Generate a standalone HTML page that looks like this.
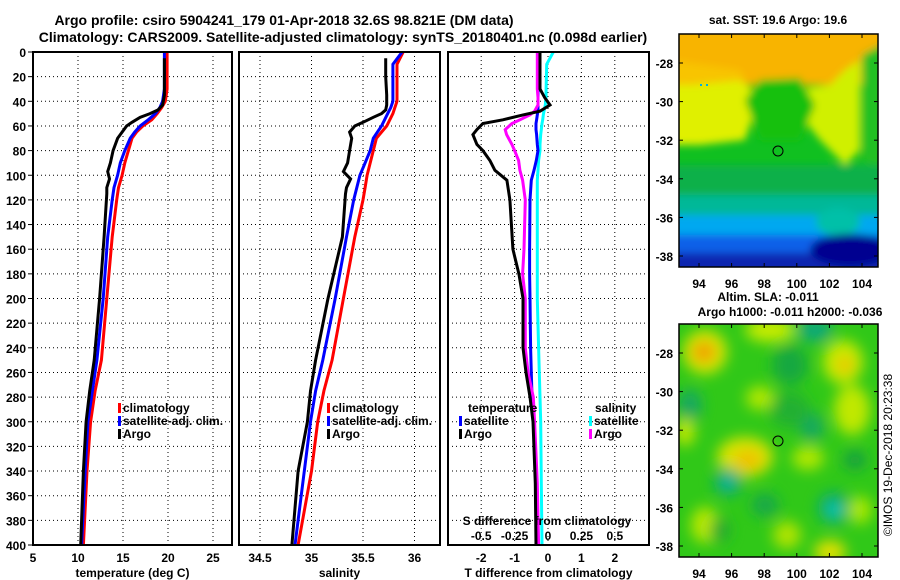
<!DOCTYPE html>
<html><head><meta charset="utf-8"><style>
html,body{margin:0;padding:0;background:#fff;}
svg{display:block;font-family:"Liberation Sans",Arial,sans-serif;font-weight:bold;}
</style></head><body>
<svg id="c" width="900" height="580" viewBox="0 0 900 580" xmlns="http://www.w3.org/2000/svg">
<defs>
<filter id="bl" x="-20%" y="-20%" width="140%" height="140%"><feGaussianBlur stdDeviation="4"/></filter>
<filter id="bl2" x="-20%" y="-20%" width="140%" height="140%"><feGaussianBlur stdDeviation="7"/></filter>
<clipPath id="m1"><rect x="679" y="34" width="199" height="233"/></clipPath>
<clipPath id="m2"><rect x="679" y="324" width="199" height="233"/></clipPath>
<clipPath id="p1"><rect x="33" y="52" width="199" height="493"/></clipPath>
<clipPath id="p2"><rect x="239" y="52" width="201" height="493"/></clipPath>
<clipPath id="p3"><rect x="448" y="52" width="201" height="493"/></clipPath>
</defs>
<text x="284" y="25" font-size="14" text-anchor="middle">Argo profile: csiro 5904241_179 01-Apr-2018 32.6S 98.821E (DM data)</text>
<text x="343" y="42" font-size="14" text-anchor="middle">Climatology: CARS2009. Satellite-adjusted climatology: synTS_20180401.nc (0.098d earlier)</text>

<g>
<text x="778" y="24" font-size="12" text-anchor="middle">sat. SST: 19.6 Argo: 19.6</text>
<g clip-path="url(#m1)">
<rect x="679" y="34" width="199" height="233" fill="#10c020"/>
<g filter="url(#bl)">
<rect x="670" y="25" width="220" height="60" fill="#f8b400"/>
<polygon points="670,75 740,80 760,95 745,140 700,145 670,145" fill="#e0f000"/>
<polygon points="670,60 740,70 745,80 690,85 670,85" fill="#f8c400"/>
<polygon points="790,90 830,85 845,70 860,60 860,110 860,150 845,165 820,140 800,115" fill="#d0f000"/>
<polygon points="745,100 760,80 800,78 815,105 800,140 760,140" fill="#18c010"/>
<polygon points="862,55 890,40 890,180 862,160" fill="#20c020"/>
<rect x="670" y="165" width="220" height="35" fill="#10b048"/>
<rect x="670" y="195" width="220" height="25" fill="#00b898"/>
<rect x="670" y="215" width="220" height="25" fill="#00a8f0"/>
<ellipse cx="838" cy="222" rx="22" ry="14" fill="#00c0a8"/>
<rect x="670" y="235" width="220" height="18" fill="#1060e8"/>
<rect x="670" y="253" width="220" height="30" fill="#0828b0"/>
<ellipse cx="850" cy="250" rx="40" ry="16" fill="#000090"/>
</g>
<rect x="700" y="84" width="2" height="2" fill="#00b0e0"/><rect x="706" y="84" width="2" height="2" fill="#00b0e0"/>
</g>
<rect x="679" y="34" width="199" height="233" fill="none" stroke="#000" stroke-width="1.5"/>
<circle cx="778" cy="151" r="5" fill="none" stroke="#000" stroke-width="1"/>
<g id="m1ax"></g>
</g>

<g>
<text x="768" y="301" font-size="12" text-anchor="middle">Altim. SLA: -0.011</text>
<text x="790" y="316" font-size="12" text-anchor="middle">Argo h1000: -0.011 h2000: -0.036</text>
<g clip-path="url(#m2)">
<rect x="679" y="324" width="199" height="233" fill="#30c818"/>
<g filter="url(#bl2)">
<ellipse cx="705" cy="352" rx="22" ry="22" fill="#d8e800"/>
<ellipse cx="704" cy="352" rx="12" ry="11" fill="#f0a000"/>
<ellipse cx="770" cy="330" rx="25" ry="12" fill="#c8ec00"/>
<ellipse cx="815" cy="330" rx="18" ry="12" fill="#10a878"/>
<ellipse cx="843" cy="362" rx="20" ry="22" fill="#c8ea00"/>
<ellipse cx="845" cy="365" rx="8" ry="8" fill="#f0c000"/>
<ellipse cx="690" cy="405" rx="12" ry="16" fill="#18a860"/>
<ellipse cx="760" cy="398" rx="14" ry="12" fill="#b0e800"/>
<ellipse cx="745" cy="457" rx="28" ry="20" fill="#d8e400"/>
<ellipse cx="748" cy="460" rx="14" ry="10" fill="#f0c000"/>
<ellipse cx="685" cy="432" rx="10" ry="14" fill="#c0e800"/>
<ellipse cx="852" cy="410" rx="18" ry="25" fill="#c0e800"/>
<ellipse cx="812" cy="427" rx="12" ry="14" fill="#18a860"/>
<ellipse cx="790" cy="410" rx="20" ry="18" fill="#20b030"/>
<ellipse cx="728" cy="482" rx="14" ry="14" fill="#10a870"/>
<ellipse cx="728" cy="482" rx="6" ry="6" fill="#10c0b0"/>
<ellipse cx="834" cy="508" rx="16" ry="16" fill="#10a870"/>
<ellipse cx="834" cy="510" rx="7" ry="7" fill="#10d0c0"/>
<ellipse cx="808" cy="458" rx="16" ry="12" fill="#b0e800"/>
<ellipse cx="855" cy="460" rx="12" ry="10" fill="#18a040"/>
<ellipse cx="765" cy="505" rx="14" ry="12" fill="#18a848"/>
<ellipse cx="705" cy="525" rx="14" ry="18" fill="#b8e800"/>
<ellipse cx="720" cy="530" rx="10" ry="12" fill="#20a830"/>
<ellipse cx="830" cy="552" rx="16" ry="12" fill="#e0e000"/>
<ellipse cx="860" cy="510" rx="12" ry="14" fill="#a8e800"/>
<ellipse cx="787" cy="535" rx="14" ry="14" fill="#b0e400"/>
<ellipse cx="790" cy="365" rx="18" ry="20" fill="#18a840"/>
</g>
</g>
<rect x="679" y="324" width="199" height="233" fill="none" stroke="#000" stroke-width="1.5"/>
<circle cx="778" cy="441" r="5" fill="none" stroke="#000" stroke-width="1"/>
<g id="m2ax"></g>
</g>
<text transform="translate(892,455) rotate(-90)" font-size="12" font-weight="normal" text-anchor="middle">©IMOS 19-Dec-2018 20:23:38</text>

<g id="panels"></g>
</svg>
<script>
// ---- data (depth in dbar) ----
const depths = [0,10,20,30,40,45,50,55,60,65,70,80,90,100,110,120,150,200,250,275,300,340,400];
const tempClim = [19.9,19.9,19.9,19.9,19.7,19.3,18.8,18.2,17.2,16.5,16.0,15.6,15.2,14.9,14.5,14.3,13.8,13.2,12.6,11.9,11.4,11.0,10.6];
const tempSat  = [19.6,19.6,19.6,19.6,19.4,19.1,18.6,17.8,16.9,16.3,15.8,15.2,14.7,14.4,14.0,13.8,13.3,12.8,12.1,11.6,11.1,10.8,10.4];
const argoDepths = [5,20,35,43,47,50,53,57,60,65,70,80,90,97,103,110,115,150,200,250,275,300,340,400];
const tempArgo = [19.6,19.6,19.6,19.4,18.9,18.0,16.9,16.0,15.4,14.9,14.4,13.9,13.6,13.3,13.5,13.2,13.2,12.9,12.4,11.8,11.3,10.9,10.6,10.3];
const salClim = [35.89,35.83,35.83,35.83,35.83,35.81,35.79,35.76,35.73,35.68,35.63,35.60,35.57,35.54,35.52,35.50,35.42,35.31,35.20,35.12,35.06,35.00,34.87];
const salSat  = [35.88,35.79,35.79,35.79,35.79,35.77,35.74,35.71,35.68,35.64,35.60,35.57,35.52,35.47,35.44,35.41,35.34,35.23,35.11,35.04,34.99,34.93,34.84];
const salArgo = [35.72,35.72,35.73,35.73,35.72,35.68,35.60,35.50,35.42,35.37,35.39,35.37,35.35,35.31,35.38,35.34,35.33,35.30,35.16,35.04,34.99,34.96,34.87,34.81];
const diffDepths = [0,10,20,30,37,43,48,51,55,58,63,67,75,80,88,96,104,120,160,180,200,240,260,280,300,350,400];
const dTempArgo = [-0.24,-0.24,-0.24,-0.24,-0.1,0.06,-0.24,-0.75,-1.35,-1.95,-2.13,-2.25,-2.13,-1.95,-1.74,-1.59,-1.23,-1.14,-1.05,-0.87,-0.75,-0.75,-0.66,-0.54,-0.45,-0.38,-0.36];
const dTempSat  = [-0.3,-0.3,-0.3,-0.3,-0.3,-0.3,-0.3,-0.32,-0.34,-0.36,-0.36,-0.34,-0.32,-0.3,-0.35,-0.42,-0.5,-0.54,-0.55,-0.55,-0.54,-0.52,-0.5,-0.48,-0.42,-0.36,-0.33];
const dSalArgo  = [-0.08,-0.08,-0.08,-0.08,-0.075,-0.075,-0.1,-0.135,-0.21,-0.27,-0.32,-0.31,-0.27,-0.25,-0.22,-0.21,-0.19,-0.17,-0.18,-0.19,-0.17,-0.17,-0.15,-0.11,-0.1,-0.08,-0.07];
const dSalSat   = [0.04,-0.01,-0.012,-0.014,-0.015,-0.02,-0.03,-0.035,-0.04,-0.045,-0.05,-0.055,-0.06,-0.06,-0.07,-0.075,-0.08,-0.08,-0.08,-0.08,-0.08,-0.07,-0.065,-0.06,-0.055,-0.05,-0.045];
const depthTicks = [0,20,40,60,80,100,120,140,160,180,200,220,240,260,280,300,320,340,360,380,400];
const tempTicks = [5,10,15,20,25];
const salTicks = [34.5,35,35.5,36];
const dTTicks = [-2,-1,0,1,2];
const dSTicks = ["-0.5","-0.25","0","0.25","0.5"];
const lonTicks = [94,96,98,100,102,104];
const latTicks = [-28,-30,-32,-34,-36,-38];

const NS="http://www.w3.org/2000/svg";
const root=document.getElementById('panels');
function mk(tag,attrs,parent){const e=document.createElementNS(NS,tag);for(const k in attrs)e.setAttribute(k,attrs[k]);(parent||root).appendChild(e);return e;}
const Y0=52,Y1=545;
const yD=d=>Y0+d*(Y1-Y0)/400;
const xT=v=>33+(v-5)*9;
const xS=v=>260+(v-34.5)*103;
const xDT=v=>548+v*33.4;
const xDS=v=>548+v*133.6;

function panel(name,x0,x1,xticks,xf,labels,xlabel,leftLabels){
  const g=mk('g',{});
  
  
  depthTicks.forEach(d=>{
    const l=mk('line',{x1:x0,x2:x1,y1:yD(d),y2:yD(d),stroke:'#000','stroke-width':1,'stroke-dasharray':'1,3'},g);
    
    
    if(leftLabels){
      const t=mk('text',{x:26,y:yD(d)+5,'font-size':12,'text-anchor':'end'},g);t.textContent=d;
      
      
      mk('line',{x1:28,x2:33,y1:yD(d),y2:yD(d),stroke:'#000'},g);
    }
  });
  xticks.forEach((v,i)=>{
    const x=xf(v);
    const l=mk('line',{x1:x,x2:x,y1:Y0,y2:Y1,stroke:'#000','stroke-width':1,'stroke-dasharray':'1,3'},g);
    
    
    const t=mk('text',{x:x,y:562,'font-size':12,'text-anchor':'middle'},g);t.textContent=labels?labels[i]:v;
    
    
  });
  const t=mk('text',{x:(x0+x1)/2,y:577,'font-size':12,'text-anchor':'middle'},g);t.textContent=xlabel;
  
  
  return g;
}
function line(g,ds,vs,xf,color,name,clip){
  const pts=ds.map((d,i)=>xf(vs[i]).toFixed(1)+','+yD(d).toFixed(1)).join(' ');
  const p=mk('polyline',{points:pts,fill:'none',stroke:color,'stroke-width':3,'stroke-linejoin':'miter','clip-path':'url(#'+clip+')'},g);
  
  
}
function frame(g,x0,x1){mk('rect',{x:x0,y:Y0,width:x1-x0,height:Y1-Y0,fill:'none',stroke:'#000','stroke-width':2},g);}
function legend(g,x,y,color,label){
  mk('rect',{x:x,y:y-9,width:3,height:10,fill:color},g);
  const t=mk('text',{x:x+5,y:y,'font-size':12},g);t.textContent=label;
  
  
}

// Panel 1
let g=panel('temperature-panel',33,232,tempTicks,xT,null,'temperature (deg C)',true);
line(g,depths,tempClim,xT,'#ff0000','temp-climatology-line','p1');
line(g,depths,tempSat,xT,'#0000ff','temp-satellite-line','p1');
line(g,argoDepths,tempArgo,xT,'#000000','temp-argo-line','p1');
frame(g,33,232);
legend(g,118,412,'#ff0000','climatology');
legend(g,118,425,'#0000ff','satellite-adj. clim.');
legend(g,118,438,'#000000','Argo');

// Panel 2
g=panel('salinity-panel',239,440,salTicks,xS,null,'salinity',false);
line(g,depths,salClim,xS,'#ff0000','sal-climatology-line','p2');
line(g,depths,salSat,xS,'#0000ff','sal-satellite-line','p2');
line(g,argoDepths,salArgo,xS,'#000000','sal-argo-line','p2');
frame(g,239,440);
legend(g,327,412,'#ff0000','climatology');
legend(g,327,425,'#0000ff','satellite-adj. clim.');
legend(g,327,438,'#000000','Argo');

// Panel 3
g=panel('difference-panel',448,649,dTTicks,xDT,null,'T difference from climatology',false);
line(g,diffDepths,dSalSat,xDS,'#00ffff','sal-satellite-diff-line','p3');
line(g,diffDepths,dTempSat,xDT,'#0000ff','temp-satellite-diff-line','p3');
line(g,diffDepths,dSalArgo,xDS,'#ff00ff','sal-argo-diff-line','p3');
line(g,diffDepths,dTempArgo,xDT,'#000000','temp-argo-diff-line','p3');
frame(g,448,649);
let tt=mk('text',{x:468,y:412,'font-size':12},g);tt.textContent='temperature';


legend(g,459,425,'#0000ff','satellite');
legend(g,459,438,'#000000','Argo');
tt=mk('text',{x:595,y:412,'font-size':12},g);tt.textContent='salinity';


legend(g,589,425,'#00ffff','satellite');
legend(g,589,438,'#ff00ff','Argo');
tt=mk('text',{x:547,y:525,'font-size':12,'text-anchor':'middle'},g);tt.textContent='S difference from climatology';


dSTicks.forEach(s=>{
  const t=mk('text',{x:xDS(parseFloat(s)),y:540,'font-size':12,'text-anchor':'middle'},g);t.textContent=s;
  
  
});

// map axes
function mapAxes(id,top){
  const ga=document.getElementById(id);
  const bottom=top+233;
  lonTicks.forEach(lon=>{
    const x=699+(lon-94)*16.3;
    mk('line',{x1:x,x2:x,y1:top,y2:top+4,stroke:'#000'},ga);
    mk('line',{x1:x,x2:x,y1:bottom,y2:bottom-4,stroke:'#000'},ga);
    const t=mk('text',{x:x,y:bottom+21,'font-size':12,'text-anchor':'middle'},ga);t.textContent=lon;
    
    
  });
  latTicks.forEach(lat=>{
    const y=top+29+(-28-lat)*19.3;
    mk('line',{x1:679,x2:683,y1:y,y2:y,stroke:'#000'},ga);
    mk('line',{x1:874,x2:878,y1:y,y2:y,stroke:'#000'},ga);
    const t=mk('text',{x:673,y:y+5,'font-size':12,'text-anchor':'end'},ga);t.textContent=lat;
    
    
  });
}
mapAxes('m1ax',34);
mapAxes('m2ax',324);
</script>
</body></html>
